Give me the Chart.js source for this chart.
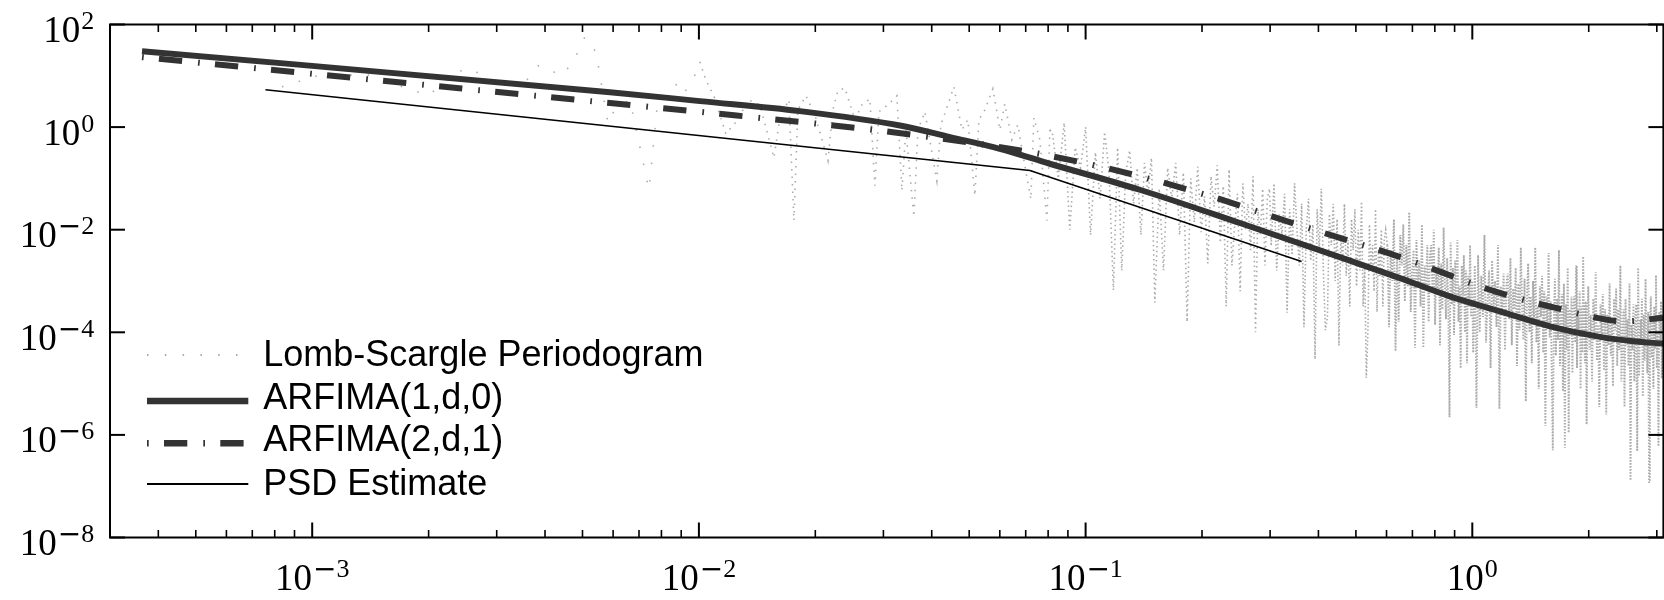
<!DOCTYPE html>
<html><head><meta charset="utf-8">
<script src="https://cdn.jsdelivr.net/npm/chart.js@4.4.1/dist/chart.umd.min.js"></script>
<style>html,body{margin:0;padding:0;background:#fff;}canvas{display:block;}</style>
</head><body>
<canvas id="c" width="1664" height="600"></canvas>
<script>
// ---------- Lomb-Scargle periodogram ----------
const lsFreqLow = [8.35e-4,1.03e-3,1.39e-3,2.0e-3,2.35e-3,2.6e-3,3.27e-3,3.84e-3,4.05e-3,4.35e-3,4.69e-3,5.07e-3,5.42e-3,5.82e-3,6.07e-3,6.63e-3,7.43e-3,7.83e-3,8.93e-3,9.2e-3,9.7e-3,
 0.01006,0.01042,0.01093,0.01174,0.01262,0.01339,0.01438,0.01563,0.0162,0.01709,0.01761,0.01803,0.01891,0.01995,0.02157,0.0222,0.02288,0.02385,0.02531,0.02639,0.02768,0.02852,0.02921,0.03082,0.03251,0.03349,0.0343,0.03597,0.03684,0.03841,0.04124,0.04224,0.04404,0.04564,0.04787,0.04961,0.05172,0.05297,0.05489,0.05757,0.06002,0.06183,0.06446,0.0668,0.06922,0.07218,0.07348,0.07615,0.07943,0.08087];
const lsPowLow = [6.1,10,10.5,4.1,11.9,13.7,3.4,15.6,14.9,10,16.3,57,29,1.16,2.27,3.4,0.06,3.4,7.6,4.9,9.1,
 18.7,8.3,4.07,0.74,1.39,3.4,2.72,0.252,1.52,3.4,0.015,2.17,4.07,1.74,0.221,2.17,5.1,5.8,1.39,2.72,3.56,0.0719,1.99,2.72,4.07,0.0575,0.886,0.0179,0.886,1.99,0.09,1.11,2.72,6.1,0.886,1.39,0.0459,1.39,2.17,5.57,0.886,2.84,0.566,1.11,0.231,0.0394,1.52,0.566,0.015,0.886];

const lsFreqA = [0.082,0.085,0.088,0.091,0.094,0.097,0.100,0.103,0.106,0.109,0.112,0.115,0.118,0.121,0.124,0.127,0.130,0.133,0.136,0.139,0.142,0.145,0.148,0.151];
const lsPowA = [0.79,0.1,1.2,0.01,0.4,0.16,1.0,0.0079,0.32,0.04,0.8,0.13,6.6e-4,0.4,1.6e-3,0.13,0.35,0.032,0.16,7.9e-3,0.2,0.05,0.25,3.8e-4];

const lsFreqB = [0.155,0.159,0.163,0.167,0.171,0.175,0.179,0.183,0.187,0.191,0.195,0.199,0.203,0.207,0.211,0.215,0.219,0.223,0.227,0.231,0.235,0.239,0.243,0.247,0.251,0.255,0.259,0.263,0.267,0.271,0.275,0.279,0.283,0.287,0.291,0.295,0.299];
const lsPowB = [0.063,1.6e-3,0.16,0.04,0.2,7.9e-3,0.13,1.6e-4,0.1,0.014,0.17,8.9e-3,0.045,2.2e-3,0.11,0.028,0.18,5.6e-3,0.071,3.2e-4,0.15,2e-3,0.0126,0.05,6.3e-4,0.08,0.01,0.032,4e-3,0.11,1e-4,0.025,7.9e-3,0.063,2e-3,0.04,0.063];

const lsFreqC = [0.302,0.307,0.312,0.317,0.322,0.327,0.332,0.337,0.342,0.347,0.352,0.357,0.362,0.367,0.372,0.377,0.382,0.387,0.392,0.397,0.402,0.407,0.412,0.417,0.422,0.427,0.432,0.437,0.442,0.447,0.452,0.457,0.462,0.467,0.472,0.477,0.482,0.487,0.492,0.497,0.502,0.507,0.512,0.517,0.522,0.527,0.532,0.537,0.542,0.547,0.552,0.557,0.562,0.567,0.572,0.577,0.582,0.587,0.592,0.597];
const lsPowC = [5e-3,0.079,1.6e-3,0.02,7.9e-3,0.05,2.4e-4,0.025,3.2e-3,0.08,0.01,2e-3,0.032,1.26e-4,0.01,0.04,2.5e-3,0.0126,3e-5,0.025,4e-3,0.063,1.6e-3,1.1e-4,2e-4,0.02,5e-3,0.032,1e-3,0.016,5.5e-5,7.9e-3,2e-3,0.032,1.26e-3,6.3e-3,3.2e-4,0.016,4e-3,0.025,7.9e-4,0.01,1.6e-3,0.035,3.2e-4,2e-3,1.3e-5,1e-4,0.0126,1.6e-3,5e-3,6.3e-4,0.025,2.5e-4,4e-3,1.26e-3,0.01,3.2e-4,6.3e-3,0.01];

const lsFreqD = [0.603,0.609,0.615,0.621,0.627,0.633,0.639,0.645,0.651,0.657,0.663,0.669,0.675,0.681,0.687,0.693,0.699,0.705,0.711,0.717,0.723,0.729,0.735,0.741,0.747,0.753,0.759,0.765,0.771,0.777,0.783,0.789,0.795,0.801,0.807,0.813,0.819,0.825,0.831,0.837,0.843,0.849,0.855,0.861,0.867,0.873,0.879,0.885,0.891,0.897,0.903,0.909,0.915,0.921,0.927,0.933,0.939,0.945,0.951,0.957,0.963,0.969,0.975,0.981,0.987,0.993,0.999];
const lsPowD = [5e-3,1.26e-4,4e-3,1e-3,0.016,4.3e-5,3.2e-3,1.6e-4,7.9e-3,2e-3,0.0126,4e-4,5e-3,7.9e-4,0.022,2.5e-4,1.6e-3,4e-3,5e-5,6.3e-3,7.9e-4,2.5e-3,3.2e-4,0.0126,5e-5,2e-3,6.3e-4,5e-3,1.6e-4,3.2e-3,5e-3,6.3e-4,0.01,1.4e-4,1.8e-3,7.1e-4,4.5e-3,5.6e-5,2.2e-3,2.8e-4,0.011,8.9e-4,1.8e-4,2.8e-3,3e-4,2.2e-6,5.6e-3,3.5e-4,1.8e-3,8.9e-5,2.5e-3,4e-4,6.3e-3,1.6e-4,7.9e-4,2e-5,2e-3,5e-4,3.2e-3,1e-4,1.6e-3,2.5e-5,1.26e-3,3.2e-4,5e-3,2e-4,1e-3];

const lsFreqE = [1.005,1.015,1.025,1.035,1.045,1.055,1.065,1.075,1.085,1.095,1.105,1.115,1.125,1.135,1.145,1.155,1.165,1.175,1.185,1.195,1.205,1.215,1.225,1.235,1.245,1.255,1.265,1.275,1.285,1.295,1.305,1.315,1.325,1.335,1.345,1.355,1.365,1.375,1.385,1.395,1.405,1.415,1.425,1.435,1.445,1.455,1.465,1.475,1.485,1.495,1.505,1.515,1.525,1.535,1.545,1.555,1.565,1.575,1.585,1.595,1.605,1.615,1.625,1.635,1.645,1.655,1.665,1.675,1.685,1.695,1.705,1.715,1.725,1.735,1.745,1.755,1.765,1.775,1.785,1.795,1.805,1.815,1.825,1.835,1.845,1.855,1.865,1.875,1.885,1.895,1.905,1.915,1.925,1.935,1.945,1.955,1.965,1.975,1.985,1.995];
const lsPowE = [4e-5,2e-3,3.4e-6,3.2e-3,1e-4,1.26e-3,2e-4,7.9e-3,6.3e-5,4e-4,1.6e-3,2e-5,2.5e-3,3.2e-4,1e-3,1.26e-4,5e-3,3.2e-6,7.9e-4,2.5e-4,1.4e-3,4.5e-5,8.9e-4,1.4e-3,1.8e-4,2.8e-3,5.6e-5,7.1e-4,2.8e-4,1.8e-3,2.2e-5,8.9e-4,1.1e-4,4.5e-3,3.5e-4,7.1e-5,1.1e-3,4.5e-6,5.6e-4,2.2e-3,1e-4,5e-4,2.5e-5,1e-3,1.6e-4,4.5e-3,6.3e-5,3.2e-4,7.9e-6,7.9e-4,2e-4,1.26e-3,4e-5,6.3e-4,1.5e-6,5e-4,1.26e-4,3.5e-3,7.9e-5,4e-4,1.4e-5,5e-7,1.8e-4,1.1e-3,3.5e-5,4.5e-4,7.1e-5,4e-3,2.2e-5,1.4e-4,5.6e-4,7.1e-6,8.9e-4,5.6e-7,3.5e-4,4.5e-5,1.8e-3,1.1e-6,2.8e-4,8.9e-5,5e-4,1.6e-5,3.2e-4,5e-4,6.3e-5,2e-3,2e-5,2.5e-4,1e-4,6.3e-4,7.9e-6,3.2e-4,4e-5,3e-3,1.26e-4,2.5e-5,4e-4,1.6e-6,2e-4,7.9e-4];

const lsFreqF = [2.010,2.025,2.040,2.055,2.070,2.085,2.100,2.115,2.130,2.145,2.160,2.175,2.190,2.205,2.220,2.235,2.250,2.265,2.280,2.295,2.310,2.325,2.340,2.355,2.370,2.385,2.400,2.415,2.430,2.445,2.460,2.475,2.490,2.505,2.520,2.535,2.550,2.565,2.580,2.595,2.610,2.625,2.640,2.655,2.670,2.685,2.700,2.715,2.730,2.745,2.760,2.775,2.790,2.805,2.820,2.835,2.850,2.865,2.880,2.895,2.910,2.925,2.940,2.955,2.970,2.985,3.000,3.015,3.030,3.045,3.060,3.075,3.090,3.105];
const lsPowF = [4.5e-5,2.2e-4,1.1e-5,4.5e-4,7.1e-5,1.5e-3,2.8e-5,1.4e-4,3.5e-6,3.5e-4,8.9e-5,5.6e-4,1.8e-5,2.8e-4,2.5e-6,2.2e-4,5.6e-5,8.9e-4,3.5e-5,1.8e-4,8.9e-6,4.5e-4,1.1e-4,7.1e-4,2.2e-5,2.8e-4,4.5e-5,2e-3,1.1e-5,7.1e-5,2.8e-4,3.5e-6,4.5e-4,5.6e-5,1.8e-4,2.2e-5,8.9e-4,1.3e-7,1.4e-4,4.5e-5,3.5e-4,1.1e-5,2.2e-4,3.5e-4,4.8e-7,1.8e-3,1.4e-5,1.8e-4,7.1e-5,4.5e-4,5.6e-6,2.2e-4,2.8e-5,1.1e-3,7.9e-5,1.6e-5,2.5e-4,1.2e-7,1.26e-4,5e-4,3.2e-5,1.6e-4,7.9e-6,3.2e-4,5e-5,1.3e-3,2e-5,1e-4,6e-7,2.5e-4,6.3e-5,4e-4,1.26e-5,2e-4];

// ---------- Model curves ----------
const arfima10Freq = [3.63e-4,5.89e-3,0.01006,0.01825,0.0331,0.0446,0.0600,0.0808,0.138,0.2506,0.4827,0.650,0.875,1.179,1.588,2.138,2.607,3.117];
const arfima10Pow  = [30.2,4.80,3.21,2.05,1.075,0.639,0.378,0.193,0.0601,0.0135,2.49e-3,1.14e-3,5.02e-4,2.56e-4,1.31e-4,8.13e-5,6.68e-5,6.03e-5];
const arfima21Freq = [3.63e-4,4.55e-3,0.01252,0.03058,0.0679,0.1133,0.2014,0.360,0.6434,1.144,1.685,2.481,3.112];
const arfima21Pow  = [23.1,3.56,1.68,0.821,0.350,0.159,0.0496,0.01197,3.02e-3,6.29e-4,2.86e-4,1.64e-4,1.93e-4];
const psdFreq = [7.57e-4,0.0718,0.3619];
const psdPow  = [5.33,0.1428,2.41e-3];

// ---------- Axis ticks ----------
const xMajorTicks = [1e-3,1e-2,1e-1,1];
const xMajorExps  = [-3,-2,-1,0];
const xMinorTicks = [4e-4,5e-4,6e-4,7e-4,8e-4,9e-4,2e-3,3e-3,4e-3,5e-3,6e-3,7e-3,8e-3,9e-3,0.02,0.03,0.04,0.05,0.06,0.07,0.08,0.09,0.2,0.3,0.4,0.5,0.6,0.7,0.8,0.9,2,3];
const yMajorTicks = [1e2,1,1e-2,1e-4,1e-6,1e-8];
const yMajorExps  = [2,0,-2,-4,-6,-8];

const seriesLabels = ['Lomb-Scargle Periodogram','ARFIMA(1,d,0)','ARFIMA(2,d,1)','PSD Estimate'];

function pts(fs, ps) { return fs.map((f, i) => ({x: f, y: ps[i]})); }
const lsFreq = [].concat(lsFreqLow, lsFreqA, lsFreqB, lsFreqC, lsFreqD, lsFreqE, lsFreqF);
const lsPow  = [].concat(lsPowLow, lsPowA, lsPowB, lsPowC, lsPowD, lsPowE, lsPowF);

const GRAY = '#ababab', DARK = '#333333';

function lsDash(ctx) {
  const f = ctx.p0.parsed.x;
  if (f < 0.01) return [1.5, 16];
  if (f < 0.08) return [1.5, 6];
  if (f < 0.3) return [1.5, 3.2];
  if (f < 0.6) return [1.5, 2.2];
  return [1.5, 1.5];
}
function lsWidth(ctx) {
  const f = ctx.p0.parsed.x;
  return f < 0.6 ? 1.6 : 1.9;
}

const legendStyle = [
  {color: GRAY, width: 1.8, dash: [1.5, 16.3], lineY: 355, base: 366},
  {color: DARK, width: 6.5, dash: [], lineY: 401, base: 409},
  {color: DARK, width: 6.5, dash: [1.7, 15.3, 23.3, 16], lineY: 443.3, base: 451},
  {color: '#000', width: 1.8, dash: [], lineY: 484, base: 495}
];

function drawPower(ctx, exp, ax, baseline, align) {
  const baseFont = '37px "Liberation Serif"';
  const supFont = '26px "Liberation Serif"';
  const minusFont = '28px "DejaVu Sans"';
  const neg = exp < 0;
  const digits = String(Math.abs(exp));
  ctx.font = baseFont; const wb = ctx.measureText('10').width;
  ctx.font = minusFont; const wm = neg ? ctx.measureText('\u2212').width : 0;
  ctx.font = supFont; const wd = ctx.measureText(digits).width;
  const gap = 1;
  const total = wb + gap + wm + wd;
  const x0 = align === 'right' ? ax - total : ax - total / 2;
  ctx.textAlign = 'left'; ctx.textBaseline = 'alphabetic'; ctx.fillStyle = '#000';
  ctx.font = baseFont; ctx.fillText('10', x0, baseline);
  let xs = x0 + wb + gap;
  if (neg) { ctx.font = minusFont; ctx.fillText('\u2212', xs, baseline - 12); xs += wm; }
  ctx.font = supFont; ctx.fillText(digits, xs, baseline - 13);
}

const framePlugin = {
  id: 'frame',
  afterDraw(chart) {
    const ctx = chart.ctx, a = chart.chartArea, xs = chart.scales.x, ys = chart.scales.y;
    ctx.save();
    ctx.strokeStyle = '#000';
    const seg = (x1, y1, x2, y2) => { ctx.beginPath(); ctx.moveTo(x1, y1); ctx.lineTo(x2, y2); ctx.stroke(); };
    ctx.lineWidth = 2;
    xMajorTicks.forEach(v => { const p = xs.getPixelForValue(v); seg(p, a.bottom, p, a.bottom - 15); seg(p, a.top, p, a.top + 15); });
    yMajorTicks.forEach(v => { const p = ys.getPixelForValue(v); seg(a.left, p, a.left + 15, p); seg(a.right, p, a.right - 15, p); });
    ctx.lineWidth = 1.6;
    xMinorTicks.forEach(v => { const p = xs.getPixelForValue(v); seg(p, a.bottom, p, a.bottom - 7.5); seg(p, a.top, p, a.top + 7.5); });
    ctx.lineWidth = 2;
    ctx.strokeRect(a.left, a.top, a.right - a.left, a.bottom - a.top);
    // tick labels
    xMajorTicks.forEach((v, i) => drawPower(ctx, xMajorExps[i], xs.getPixelForValue(v), a.bottom + 52.5, 'center'));
    yMajorTicks.forEach((v, i) => drawPower(ctx, yMajorExps[i], 94.3, ys.getPixelForValue(v) + 17.5, 'right'));
    // legend
    chart.data.datasets.forEach((ds, i) => {
      const st = legendStyle[i];
      ctx.save();
      ctx.strokeStyle = st.color; ctx.lineWidth = st.width; ctx.setLineDash(st.dash); ctx.lineCap = 'butt';
      seg(147, st.lineY, 248.3, st.lineY);
      ctx.restore();
      ctx.fillStyle = '#000'; ctx.font = '36px "Liberation Sans"'; ctx.textAlign = 'left'; ctx.textBaseline = 'alphabetic';
      ctx.fillText(ds.label, 263.3, st.base);
    });
    ctx.restore();
  }
};

new Chart(document.getElementById('c'), {
  type: 'line',
  data: {
    datasets: [
      {label: seriesLabels[0], data: pts(lsFreq, lsPow), borderColor: GRAY, borderWidth: 1.6, pointRadius: 0, tension: 0, order: 4,
       segment: {borderDash: lsDash, borderWidth: lsWidth}},
      {label: seriesLabels[1], data: pts(arfima10Freq, arfima10Pow), borderColor: DARK, borderWidth: 6, pointRadius: 0, cubicInterpolationMode: 'monotone', order: 2},
      {label: seriesLabels[2], data: pts(arfima21Freq, arfima21Pow), borderColor: DARK, borderWidth: 6, pointRadius: 0, cubicInterpolationMode: 'monotone', borderDash: [1.7, 15.3, 23.3, 16], order: 1},
      {label: seriesLabels[3], data: pts(psdFreq, psdPow), borderColor: '#000', borderWidth: 1.6, pointRadius: 0, tension: 0, order: 0}
    ]
  },
  options: {
    responsive: false, animation: false, devicePixelRatio: 1, events: [],
    layout: {padding: {left: 110, right: 0.6, top: 24.5, bottom: 62.5}},
    plugins: {legend: {display: false}, tooltip: {enabled: false}},
    scales: {
      x: {type: 'logarithmic', min: 3.0e-4, max: 3.12, display: false},
      y: {type: 'logarithmic', min: 1e-8, max: 1e2, display: false}
    }
  },
  plugins: [framePlugin]
});
</script>
</body></html>
